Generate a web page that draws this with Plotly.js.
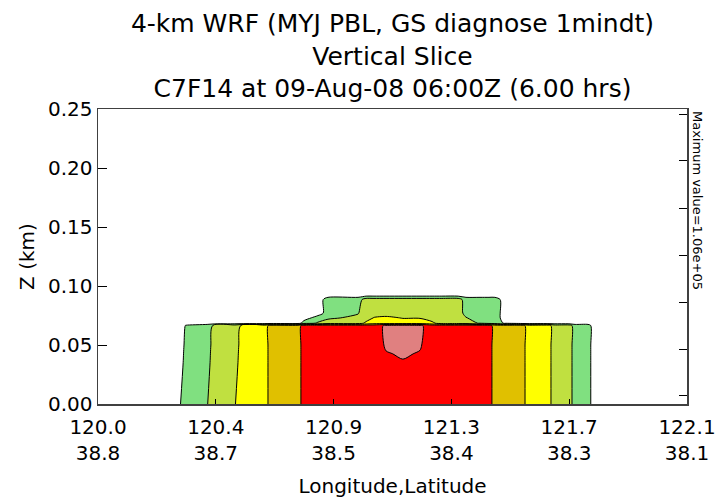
<!DOCTYPE html>
<html>
<head>
<meta charset="utf-8">
<script src="https://cdn.plot.ly/plotly-3.0.1.min.js"></script>
<style>html,body{margin:0;padding:0;background:#fff;}#chart{width:715px;height:498px;}</style>
</head>
<body>
<div id="chart"></div>
<script>
// Slice positions (longitude of each grid column)
const lonCols = [120.0, 120.292, 120.314, 120.389, 120.410, 120.488, 120.510, 120.595, 120.617, 120.713,
  120.734, 120.784, 120.820, 120.927, 120.956, 120.984, 121.027, 121.087, 121.148, 121.191,
  121.226, 121.284, 121.312, 121.362, 121.394, 121.415, 121.455, 121.512, 121.533, 121.604,
  121.626, 121.679, 121.701, 121.747, 121.768, 122.1];
// Heights of grid rows (km)
const zLevels = [0.0, 0.035, 0.0425, 0.050, 0.0665, 0.0685, 0.073, 0.077, 0.0885, 0.0925, 0.25];
// Field values, one row per height
const row0 = [0, 9000, 19000, 27000, 37000, 45000, 55000, 55000, 73000, 73000,
  91000, 91000, 91000, 91000, 91000, 91000, 91000, 91000, 91000, 91000,
  91000, 91000, 91000, 91000, 91000, 73000, 73000, 73000, 55000, 55000,
  37000, 37000, 19000, 19000, 0, 0];
const row1 = [0, 0, 19000, 19000, 37000, 37000, 55000, 55000, 73000, 73000,
  91000, 91000, 91000, 91000, 91000, 91000, 94000, 99000, 94000, 91000,
  91000, 91000, 91000, 91000, 91000, 73000, 73000, 73000, 55000, 55000,
  37000, 37000, 19000, 19000, 0, 0];
const row1b = [0, 0, 17000, 19000, 35000, 37000, 53000, 55000, 73000, 73000,
  91000, 91000, 91000, 91000, 91000, 91000, 99000, 101500, 99000, 91000,
  91000, 91000, 91000, 91000, 91000, 73000, 73000, 73000, 55000, 55000,
  37000, 37000, 19000, 19000, 0, 0];
const row2 = [0, 0, 15000, 19000, 33000, 37000, 51000, 55000, 73000, 73000,
  91000, 91000, 91000, 91000, 91000, 91000, 102000, 104000, 101500, 91000,
  91000, 91000, 91000, 91000, 91000, 73000, 73000, 73000, 55000, 55000,
  37000, 37000, 19000, 19000, 0, 0];
const row3 = [0, 0, 11500, 19000, 29000, 37000, 47000, 55000, 73000, 73000,
  91000, 91000, 91000, 91000, 91000, 91000, 103000, 106000, 103000, 91000,
  91000, 91000, 91000, 91000, 91000, 73000, 73000, 73000, 55000, 55000,
  37000, 37000, 19000, 19000, 0, 0];
const row4 = [0, 0, 0, 0, 0, 0, 0, 0, 0, 0,
  19000, 30000, 37000, 37000, 50000, 55000, 55000, 55000, 55000, 50000,
  37000, 37000, 37000, 26000, 19000, 19000, 6600, 0, 0, 0,
  0, 0, 0, 0, 0, 0];
const row5 = [0, 0, 0, 0, 0, 0, 0, 0, 0, 0,
  0, 19000, 25000, 32000, 37000, 47000, 50000, 45000, 45000, 37000,
  37000, 37000, 29000, 19000, 19000, 19000, 0, 0, 0, 0,
  0, 0, 0, 0, 0, 0];
const row6 = [0, 0, 0, 0, 0, 0, 0, 0, 0, 0,
  0, 0, 19000, 27000, 37000, 37000, 37000, 37000, 37000, 37000,
  37000, 37000, 22000, 19000, 19000, 19000, 0, 0, 0, 0,
  0, 0, 0, 0, 0, 0];
const row7 = [0, 0, 0, 0, 0, 0, 0, 0, 0, 0,
  0, 0, 19000, 19000, 37000, 37000, 37000, 37000, 37000, 37000,
  37000, 37000, 19000, 19000, 19000, 19000, 0, 0, 0, 0,
  0, 0, 0, 0, 0, 0];
const row8 = [0, 0, 0, 0, 0, 0, 0, 0, 0, 0, 0, 0, 0, 0, 0, 0, 0, 0, 0, 0,
  0, 0, 0, 0, 0, 0, 0, 0, 0, 0, 0, 0, 0, 0, 0, 0];
const row9 = [0, 0, 0, 0, 0, 0, 0, 0, 0, 0, 0, 0, 0, 0, 0, 0, 0, 0, 0, 0,
  0, 0, 0, 0, 0, 0, 0, 0, 0, 0, 0, 0, 0, 0, 0, 0];

const contourStart = 10000, contourEnd = 100000, contourStep = 18000;
const bandColors = ['#ffffff', '#80e080', '#c0e040', '#ffff00', '#e0c000', '#ff0000', '#e08080'];

const xTickVals = [120.0, 120.42, 120.84, 121.26, 121.68, 122.1];
const xTickLon = ['120.0', '120.4', '120.9', '121.3', '121.7', '122.1'];
const xTickLat = ['38.8', '38.7', '38.5', '38.4', '38.3', '38.1'];
const yTickVals = [0, 0.05, 0.10, 0.15, 0.20, 0.25];
const rightTickVals = [0.0068, 0.0466, 0.0864, 0.1262, 0.166, 0.2067, 0.2457];

const titleLines = ['4-km WRF (MYJ PBL, GS diagnose 1mindt)', 'Vertical Slice', 'C7F14 at 09-Aug-08 06:00Z (6.00 hrs)'];
const maxLabel = 'Maximum value=1.06e+05';

// stepwise colorscale
const n = bandColors.length;
const cs = [];
bandColors.forEach((c, i) => {
  const a = Math.max(0, (2 * i - 1) / (2 * (n - 1)));
  const b = Math.min(1, (2 * i + 1) / (2 * (n - 1)));
  cs.push([a, c]); cs.push([b, c]);
});

const FONT = 'DejaVu Sans, Arial, sans-serif';

const trace = {
  type: 'contour',
  x: lonCols,
  y: zLevels,
  z: [row0, row1, row1b, row2, row3, row4, row5, row6, row7, row8, row9],
  autocontour: false,
  contours: {start: contourStart, end: contourEnd, size: contourStep, coloring: 'fill'},
  colorscale: cs,
  showscale: false,
  line: {color: '#000000', width: 1, smoothing: 0.8},
  hoverinfo: 'skip'
};

const rightAxisTrace = {type: 'scatter', x: [], y: [], yaxis: 'y2', showlegend: false, hoverinfo: 'skip'};

const layout = {
  width: 715, height: 498,
  margin: {l: 98, r: 28, t: 109, b: 94},
  paper_bgcolor: '#ffffff', plot_bgcolor: '#ffffff',
  showlegend: false,
  font: {family: FONT, color: '#000000', size: 20},
  title: {
    text: titleLines.join('<br>'),
    font: {family: FONT, size: 25, color: '#000000'},
    x: 0.5, xref: 'paper', xanchor: 'center',
    y: 0.935, yref: 'container', yanchor: 'top'
  },
  xaxis: {
    range: [120.0, 122.1],
    tickmode: 'array', tickvals: xTickVals,
    ticktext: xTickLon.map((t, i) => t + '<br>' + xTickLat[i]),
    ticks: 'inside', ticklen: 5, tickcolor: '#000',
    ticklabelstandoff: 4, ticklabeloverflow: 'allow',
    showline: true, linecolor: '#404040', linewidth: 1.5, mirror: true,
    showgrid: false, zeroline: false,
    tickfont: {family: FONT, size: 20, color: '#000'},
    title: {text: 'Longitude,Latitude', font: {family: FONT, size: 20, color: '#000'}, standoff: 16},
    automargin: false
  },
  yaxis: {
    range: [0, 0.25],
    tickmode: 'array', tickvals: yTickVals, tickformat: '.2f',
    ticks: 'inside', ticklen: 9, tickcolor: '#000',
    showline: true, linecolor: '#404040', linewidth: 1.5, mirror: true,
    showgrid: false, zeroline: false,
    tickfont: {family: FONT, size: 20, color: '#000'},
    title: {text: 'Z (km)', font: {family: FONT, size: 20, color: '#000'}, standoff: 8},
    automargin: false
  },
  yaxis2: {
    overlaying: 'y', side: 'right', range: [0, 0.25],
    tickmode: 'array', tickvals: rightTickVals,
    ticks: 'inside', ticklen: 8, tickcolor: '#000',
    showticklabels: false, showgrid: false, zeroline: false, showline: false
  },
  annotations: [{
    text: maxLabel, textangle: 90,
    xref: 'paper', yref: 'paper', x: 1.0187, y: 0.6915,
    xanchor: 'center', yanchor: 'middle', showarrow: false,
    font: {family: FONT, size: 13, color: '#000'}
  }]
};

Plotly.newPlot('chart', [trace, rightAxisTrace], layout, {staticPlot: true, displayModeBar: false});
</script>
</body>
</html>
